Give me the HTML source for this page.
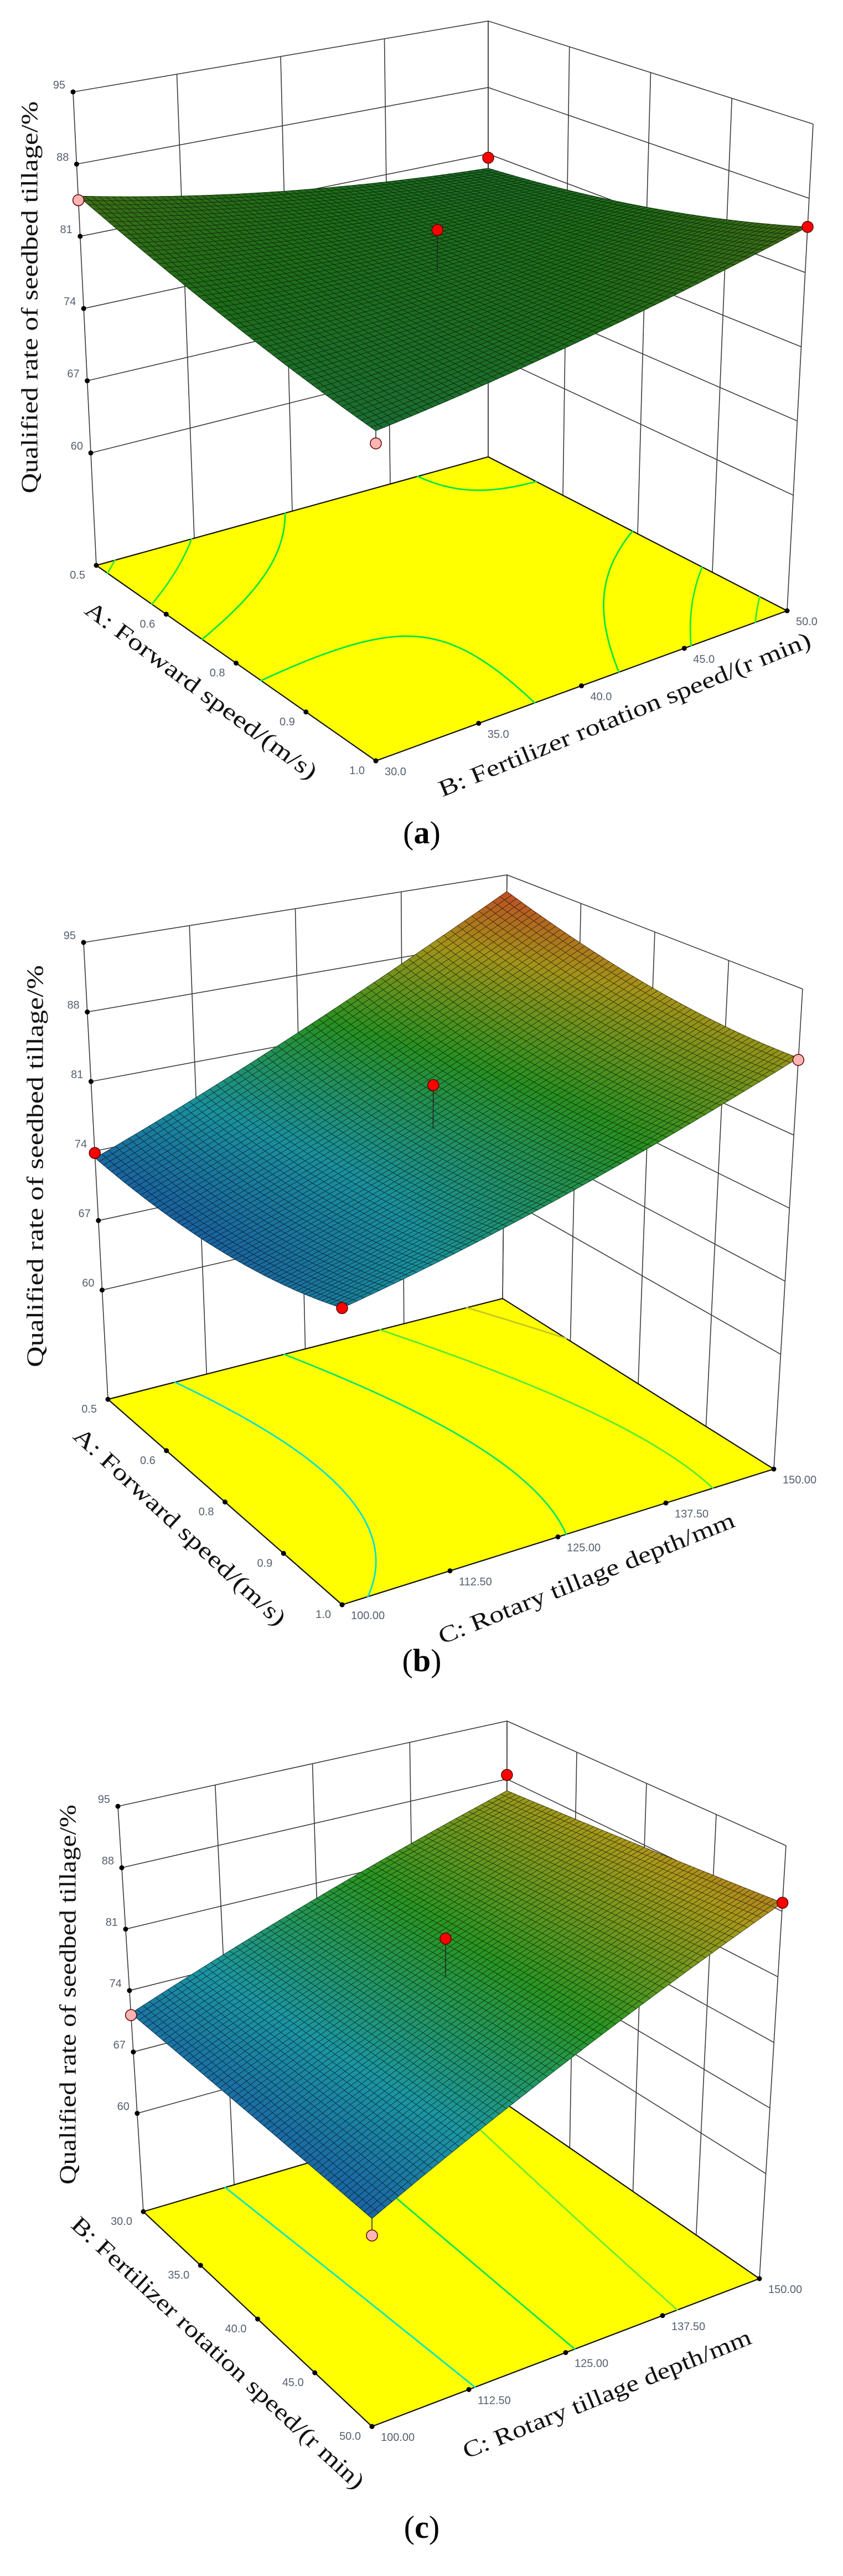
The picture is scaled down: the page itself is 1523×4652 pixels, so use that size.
<!DOCTYPE html>
<html><head><meta charset="utf-8"><title>Response surfaces</title>
<style>
html,body{margin:0;padding:0;background:#fff;}
svg{display:block;}
.tk{font-family:"Liberation Sans",sans-serif;font-size:20px;fill:#556070;}
.ttl{font-family:"Liberation Serif",serif;font-size:42px;fill:#111;}
.cap{font-family:"Liberation Serif",serif;font-size:58px;fill:#000;}
</style></head>
<body>
<svg id="fig" xmlns="http://www.w3.org/2000/svg" width="1523" height="4652" viewBox="0 0 1523 4652">
<rect width="1523" height="4652" fill="#fff"/>
</svg>
<script>
// ---------- data ----------
// quadratic response model coefficients: [b0, b1, b2, b12, b11, b22] (coded -1..1)
const coefA = [80.3, -0.3, 0.5, 3.2, 0.8, 0.8];
const coefB = [79.9, -0.65, 8.2, -1.75, 1.5, 1.2];
const coefC = [79.4, 0.15, 8.6, 1.0, 0.0, -0.25];
// z axis ticks
const zTicks = [60, 67, 74, 81, 88, 95];
// tick labels
const ticksForward = ["0.5", "0.6", "0.8", "0.9", "1.0"];
const ticksFert = ["30.0", "35.0", "40.0", "45.0", "50.0"];
const ticksDepth = ["100.00", "112.50", "125.00", "137.50", "150.00"];
// design points (fraction of factor range) and observed values
const ptsAu = [0, 0, 1, 1, 0.5];
const ptsAv = [0, 1, 1, 0, 0.5];
const ptsAz = [84.5, 80.6, 85.3, 76.8, 84.3];
const ptsBu = [0, 1, 1, 0.5];
const ptsBv = [0, 1, 0, 0.5];
const ptsBz = [73.8, 88.2, 75.5, 84.1];
const ptsCu = [0, 0, 1, 1, 0.5];
const ptsCv = [0, 1, 1, 0, 0.5];
const ptsCz = [71.2, 88.5, 88.9, 68.0, 83.6];
// contour levels on floor
const contA = [80, 81.5, 83, 84.5];
const contB = [76, 81, 86, 91];
const contC = [75, 80, 85, 90];

// ---------- geometry (layout) ----------
const panels = [
 {id:'a', coef:coefA, zmin:49.1, floor:[[174,1021],[882,825],[1422,1103],[679,1374]],
  top:[[132,166],[882,38],[1469,224],[679,424]], cmin:58, cmax:104, shade:0.62,
  pu:ptsAu, pv:ptsAv, pz:ptsAz, cont:contA, uTicks:ticksForward, vTicks:ticksFert,
  ztitle:[58,537,708], utitle:["A: Forward speed/(m/s)",361,1250,36.5,510],
  vtitle:["B: Fertilizer rotation speed/(r min)",1130,1294,-22.2,722], cap:[762,1510,'a']},
 {id:'b', coef:coefB, zmin:49.0, floor:[[195,2527],[908,2345],[1398,2653],[618,2898]],
  top:[[151,1702],[916,1580],[1450,1786],[618,1968]], cmin:71, cmax:95, shade:0.82,
  pu:ptsBu, pv:ptsBv, pz:ptsBz, cont:contB, uTicks:ticksForward, vTicks:ticksDepth,
  ztitle:[68,2106,726], utitle:["A: Forward speed/(m/s)",322,2760,42.7,505],
  vtitle:["C: Rotary tillage depth/mm",1061,2854,-21.9,573], cap:[762,3005,'b']},
 {id:'c', coef:coefC, zmin:48.8, floor:[[259,3994],[915,3800],[1372,4115],[672,4382]],
  top:[[213,3262],[916,3108],[1420,3333],[672,3552]], cmin:68, cmax:94, shade:0.85,
  pu:ptsCu, pv:ptsCv, pz:ptsCz, cont:contC, uTicks:ticksFert, vTicks:ticksDepth,
  ztitle:[127,3602,686], utitle:["B: Fertilizer rotation speed/(r min)",391,4252,42.7,703],
  vtitle:["C: Rotary tillage depth/mm",1098,4327,-22,558], cap:[762,4570,'c']}
];

const NS = 'http://www.w3.org/2000/svg';
const svg = document.getElementById('fig');
function mk(tag, attrs, parent){
  const e = document.createElementNS(NS, tag);
  for (const k in attrs) e.setAttribute(k, attrs[k]);
  (parent||svg).appendChild(e); return e;
}
function bil(c,u,v){
  return [c[0][0]*(1-u)*(1-v)+c[1][0]*(1-u)*v+c[2][0]*u*v+c[3][0]*u*(1-v),
          c[0][1]*(1-u)*(1-v)+c[1][1]*(1-u)*v+c[2][1]*u*v+c[3][1]*u*(1-v)];
}
function proj(g,u,v,z){
  const f=bil(g.floor,u,v), t=bil(g.top,u,v), h=(z-g.zmin)/(95-g.zmin);
  return [f[0]+h*(t[0]-f[0]), f[1]+h*(t[1]-f[1])];
}
function model(c,u,v){
  const x1=2*u-1, x2=2*v-1;
  return c[0]+c[1]*x1+c[2]*x2+c[3]*x1*x2+c[4]*x1*x1+c[5]*x2*x2;
}
const stops=[[0,[31,95,191]],[0.25,[32,176,192]],[0.5,[48,176,40]],[0.75,[200,180,32]],[1,[240,60,50]]];
const cstops=[[0,[0,200,255]],[0.25,[0,230,200]],[0.5,[0,230,60]],[0.75,[170,240,40]],[1,[255,110,30]]];
function cmapS(st,t,dark){
  t=Math.max(0,Math.min(1,t));
  let i=0; while(i<st.length-2 && t>st[i+1][0]) i++;
  const a=st[i],b=st[i+1],f=(t-a[0])/(b[0]-a[0]);
  const c=a[1].map((x,k)=>Math.min(255,Math.round((x+(b[1][k]-x)*f)*dark)));
  return 'rgb('+c.join(',')+')';
}
function cmap(t,dark){return cmapS(stops,t,dark);}
function P(p){return p[0].toFixed(1)+','+p[1].toFixed(1);}

panels.forEach(g=>{
  const grp = mk('g',{});
  
  
  const walls = mk('g',{stroke:'#3a3a3a','stroke-width':1.6,fill:'none'},grp);
  
  
  for(let k=0;k<=4;k++){
    const v=k/4;
    mk('line',{x1:proj(g,0,v,g.zmin)[0],y1:proj(g,0,v,g.zmin)[1],x2:proj(g,0,v,95)[0],y2:proj(g,0,v,95)[1]},walls);
    const u=k/4;
    mk('line',{x1:proj(g,u,1,g.zmin)[0],y1:proj(g,u,1,g.zmin)[1],x2:proj(g,u,1,95)[0],y2:proj(g,u,1,95)[1]},walls);
  }
  zTicks.forEach(z=>{
    const a=proj(g,0,0,z),b=proj(g,0,1,z),c=proj(g,1,1,z);
    mk('polyline',{points:P(a)+' '+P(b)+' '+P(c)},walls);
  });
  const fl = mk('polygon',{points:g.floor.map(P).join(' '),fill:'#ffff00',stroke:'#111','stroke-width':2.2},grp);
  
  
  const cg = mk('g',{fill:'none','stroke-width':2.8,'stroke-linecap':'round'},grp);
  
  
  const M=60;
  g.cont.forEach(L=>{
    let d='';
    for(let i=0;i<M;i++)for(let j=0;j<M;j++){
      const u0=i/M,u1=(i+1)/M,v0=j/M,v1=(j+1)/M;
      const cs=[[u0,v0],[u1,v0],[u1,v1],[u0,v1]];
      const vals=cs.map(c=>model(g.coef,c[0],c[1]));
      const pts=[];
      for(let e=0;e<4;e++){
        const a=vals[e],b=vals[(e+1)%4];
        if((a-L)*(b-L)<0){
          const f=(L-a)/(b-a),p=cs[e],q=cs[(e+1)%4];
          pts.push(proj(g,p[0]+f*(q[0]-p[0]),p[1]+f*(q[1]-p[1]),g.zmin));
        }
      }
      if(pts.length>=2) d+='M'+P(pts[0])+'L'+P(pts[1]);
      if(pts.length===4) d+='M'+P(pts[2])+'L'+P(pts[3]);
    }
    const t=(L-g.cmin)/(g.cmax-g.cmin);
    const pth = mk('path',{d:d,stroke:cmapS(cstops,t,1)},cg);
    
    
  });
  const tg = mk('g',{},grp);
  
  
  zTicks.forEach(z=>{
    const p=proj(g,0,0,z);
    mk('circle',{cx:p[0],cy:p[1],r:4.5,fill:'#000'},tg);
    const t=mk('text',{x:p[0]-14,y:p[1]-6,'text-anchor':'end',class:'tk'},tg);
    t.textContent=z;
  });
  g.uTicks.forEach((s,k)=>{
    const p=proj(g,k/4,0,g.zmin);
    mk('circle',{cx:p[0],cy:p[1],r:4.5,fill:'#000'},tg);
    const t=mk('text',{x:p[0]-20,y:p[1]+24,'text-anchor':'end',class:'tk'},tg);
    t.textContent=s;
  });
  g.vTicks.forEach((s,k)=>{
    const p=proj(g,1,k/4,g.zmin);
    mk('circle',{cx:p[0],cy:p[1],r:4.5,fill:'#000'},tg);
    const t=mk('text',{x:p[0]+16,y:p[1]+26,'text-anchor':'start',class:'tk'},tg);
    t.textContent=s;
  });
  const sg = mk('g',{'stroke-width':0.9},grp);
  
  
  const N=60, quads=[];
  for(let i=0;i<N;i++)for(let j=0;j<N;j++){
    const u0=i/N,u1=(i+1)/N,v0=j/N,v1=(j+1)/N;
    const zc=model(g.coef,(u0+u1)/2,(v0+v1)/2);
    quads.push({o:(u0+u1)/2+1-(v0+v1)/2,
      pts:[proj(g,u0,v0,model(g.coef,u0,v0)),proj(g,u1,v0,model(g.coef,u1,v0)),proj(g,u1,v1,model(g.coef,u1,v1)),proj(g,u0,v1,model(g.coef,u0,v1))],
      t:(zc-g.cmin)/(g.cmax-g.cmin)});
  }
  quads.sort((a,b)=>a.o-b.o);
  quads.forEach(q=>{
    mk('polygon',{points:q.pts.map(P).join(' '),fill:cmap(q.t,g.shade),stroke:cmap(q.t,g.shade*0.4)},sg);
  });
  const pg = mk('g',{},grp);
  
  
  g.pz.forEach((z,k)=>{
    const u=g.pu[k],v=g.pv[k],zs=model(g.coef,u,v);
    const p=proj(g,u,v,z),s=proj(g,u,v,zs);
    mk('line',{x1:p[0],y1:p[1],x2:s[0],y2:s[1],stroke:'#222','stroke-width':1.5},pg);
    const c=mk('circle',{cx:p[0],cy:p[1],r:10,fill:z>=zs?'#ff0000':'#ffb4b4',stroke:'#5a0000','stroke-width':1.5},pg);
    
    
  });
  const zt=mk('text',{x:g.ztitle[0],y:g.ztitle[1],'text-anchor':'middle','dominant-baseline':'middle',class:'ttl',
    transform:'rotate(-90 '+g.ztitle[0]+' '+g.ztitle[1]+')',textLength:g.ztitle[2],lengthAdjust:'spacingAndGlyphs'},grp);
  zt.textContent='Qualified rate of seedbed tillage/%';
  
  
  [g.utitle,g.vtitle].forEach((a,k)=>{
    const t=mk('text',{x:a[1],y:a[2],'text-anchor':'middle','dominant-baseline':'middle',class:'ttl',
      transform:'rotate('+a[3]+' '+a[1]+' '+a[2]+')',textLength:a[4],lengthAdjust:'spacingAndGlyphs'},grp);
    t.textContent=a[0];
    
    
  });
  const cp=mk('text',{x:g.cap[0],y:g.cap[1],'text-anchor':'middle','dominant-baseline':'middle',class:'cap'},grp);
  
  
  cp.appendChild(document.createTextNode('('));
  const b=mk('tspan',{'font-weight':'bold'},cp); b.textContent=g.cap[2];
  cp.appendChild(document.createTextNode(')'));
});
</script>
</body></html>
